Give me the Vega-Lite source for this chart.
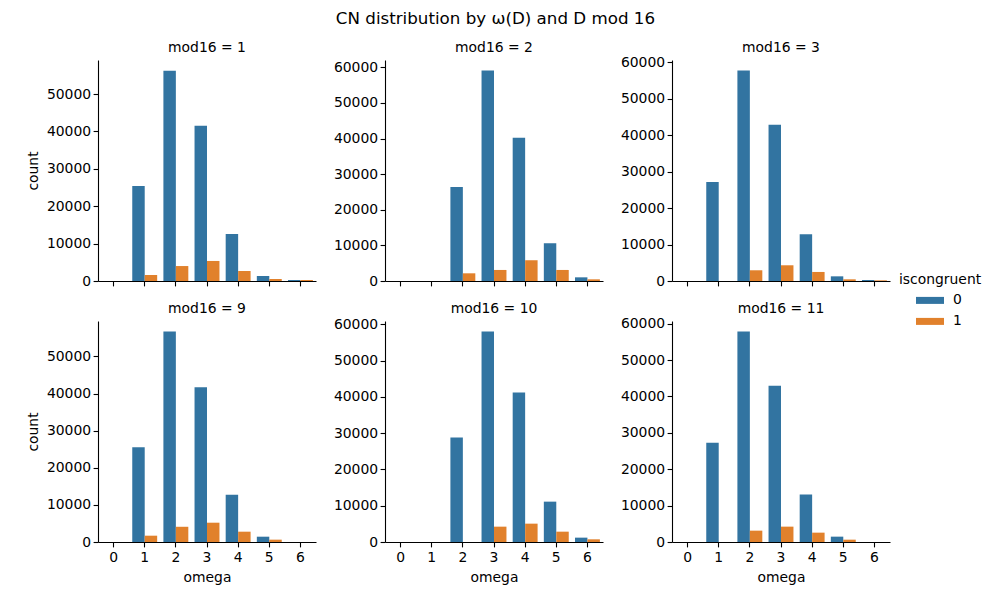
{
  "$schema": "https://vega.github.io/schema/vega-lite/v6.json",
  "padding": {"left": 26, "top": 11, "right": 5, "bottom": 5},
  "background": "white",
  "title": {"text": "CN distribution by ω(D) and D mod 16", "fontSize": 16.7, "offset": 13, "anchor": "middle", "fontWeight": "normal", "color": "#000", "dx": -9},
  "data": {"values": [
    {"mod16": 1, "omega": 1, "iscongruent": 0, "count": 25400},
    {"mod16": 1, "omega": 2, "iscongruent": 0, "count": 56250},
    {"mod16": 1, "omega": 3, "iscongruent": 0, "count": 41500},
    {"mod16": 1, "omega": 4, "iscongruent": 0, "count": 12600},
    {"mod16": 1, "omega": 5, "iscongruent": 0, "count": 1340},
    {"mod16": 1, "omega": 6, "iscongruent": 0, "count": 270},
    {"mod16": 1, "omega": 1, "iscongruent": 1, "count": 1600},
    {"mod16": 1, "omega": 2, "iscongruent": 1, "count": 4000},
    {"mod16": 1, "omega": 3, "iscongruent": 1, "count": 5360},
    {"mod16": 1, "omega": 4, "iscongruent": 1, "count": 2680},
    {"mod16": 1, "omega": 5, "iscongruent": 1, "count": 540},
    {"mod16": 1, "omega": 6, "iscongruent": 1, "count": 270},
    {"mod16": 2, "omega": 2, "iscongruent": 0, "count": 26400},
    {"mod16": 2, "omega": 3, "iscongruent": 0, "count": 59100},
    {"mod16": 2, "omega": 4, "iscongruent": 0, "count": 40200},
    {"mod16": 2, "omega": 5, "iscongruent": 0, "count": 10600},
    {"mod16": 2, "omega": 6, "iscongruent": 0, "count": 1030},
    {"mod16": 2, "omega": 2, "iscongruent": 1, "count": 2160},
    {"mod16": 2, "omega": 3, "iscongruent": 1, "count": 3100},
    {"mod16": 2, "omega": 4, "iscongruent": 1, "count": 5830},
    {"mod16": 2, "omega": 5, "iscongruent": 1, "count": 3100},
    {"mod16": 2, "omega": 6, "iscongruent": 1, "count": 470},
    {"mod16": 3, "omega": 1, "iscongruent": 0, "count": 27150},
    {"mod16": 3, "omega": 2, "iscongruent": 0, "count": 57700},
    {"mod16": 3, "omega": 3, "iscongruent": 0, "count": 42850},
    {"mod16": 3, "omega": 4, "iscongruent": 0, "count": 12840},
    {"mod16": 3, "omega": 5, "iscongruent": 0, "count": 1280},
    {"mod16": 3, "omega": 6, "iscongruent": 0, "count": 275},
    {"mod16": 3, "omega": 2, "iscongruent": 1, "count": 2940},
    {"mod16": 3, "omega": 3, "iscongruent": 1, "count": 4310},
    {"mod16": 3, "omega": 4, "iscongruent": 1, "count": 2480},
    {"mod16": 3, "omega": 5, "iscongruent": 1, "count": 460},
    {"mod16": 3, "omega": 6, "iscongruent": 1, "count": 180},
    {"mod16": 9, "omega": 1, "iscongruent": 0, "count": 25500},
    {"mod16": 9, "omega": 2, "iscongruent": 0, "count": 56700},
    {"mod16": 9, "omega": 3, "iscongruent": 0, "count": 41700},
    {"mod16": 9, "omega": 4, "iscongruent": 0, "count": 12700},
    {"mod16": 9, "omega": 5, "iscongruent": 0, "count": 1430},
    {"mod16": 9, "omega": 1, "iscongruent": 1, "count": 1700},
    {"mod16": 9, "omega": 2, "iscongruent": 1, "count": 4100},
    {"mod16": 9, "omega": 3, "iscongruent": 1, "count": 5200},
    {"mod16": 9, "omega": 4, "iscongruent": 1, "count": 2780},
    {"mod16": 9, "omega": 5, "iscongruent": 1, "count": 630},
    {"mod16": 10, "omega": 2, "iscongruent": 0, "count": 28800},
    {"mod16": 10, "omega": 3, "iscongruent": 0, "count": 58050},
    {"mod16": 10, "omega": 4, "iscongruent": 0, "count": 41200},
    {"mod16": 10, "omega": 5, "iscongruent": 0, "count": 11130},
    {"mod16": 10, "omega": 6, "iscongruent": 0, "count": 1200},
    {"mod16": 10, "omega": 3, "iscongruent": 1, "count": 4230},
    {"mod16": 10, "omega": 4, "iscongruent": 1, "count": 5060},
    {"mod16": 10, "omega": 5, "iscongruent": 1, "count": 2850},
    {"mod16": 10, "omega": 6, "iscongruent": 1, "count": 740},
    {"mod16": 11, "omega": 1, "iscongruent": 0, "count": 27270},
    {"mod16": 11, "omega": 2, "iscongruent": 0, "count": 57850},
    {"mod16": 11, "omega": 3, "iscongruent": 0, "count": 42970},
    {"mod16": 11, "omega": 4, "iscongruent": 0, "count": 13030},
    {"mod16": 11, "omega": 5, "iscongruent": 0, "count": 1470},
    {"mod16": 11, "omega": 2, "iscongruent": 1, "count": 3120},
    {"mod16": 11, "omega": 3, "iscongruent": 1, "count": 4220},
    {"mod16": 11, "omega": 4, "iscongruent": 1, "count": 2570},
    {"mod16": 11, "omega": 5, "iscongruent": 1, "count": 640}
  ]},
  "columns": 3,
  "bounds": "flush",
  "spacing": {"row": 40, "column": 69},
  "resolve": {"scale": {"color": "shared", "y": "independent"}, "legend": {"color": "shared"}},
  "concat": [
    {
      "width": 218, "height": 221,
      "title": {"text": "mod16 = 1", "frame": "group", "offset": 5},
      "transform": [{"filter": "datum.mod16 == 1"}],
      "mark": "bar",
      "encoding": {
        "x": {"field": "omega", "type": "ordinal", "scale": {"domain": [0, 1, 2, 3, 4, 5, 6], "paddingInner": 0.2, "paddingOuter": 0.1}, "axis": {"labels": false, "title": null}},
        "xOffset": {"field": "iscongruent", "type": "nominal", "scale": {"domain": [0, 1], "paddingInner": 0, "paddingOuter": 0}},
        "y": {"field": "count", "type": "quantitative", "scale": {"domain": [0, 59100], "nice": false}, "axis": {"title": "count", "format": "d"}},
        "color": {"field": "iscongruent", "type": "nominal", "scale": {"domain": [0, 1], "range": ["#3274a1", "#e1812c"]}, "legend": {"title": "iscongruent", "orient": "none", "legendX": 801, "legendY": 213}}
      }
    },
    {
      "width": 218, "height": 221,
      "title": {"text": "mod16 = 2", "frame": "group", "offset": 5},
      "transform": [{"filter": "datum.mod16 == 2"}],
      "mark": "bar",
      "encoding": {
        "x": {"field": "omega", "type": "ordinal", "scale": {"domain": [0, 1, 2, 3, 4, 5, 6], "paddingInner": 0.2, "paddingOuter": 0.1}, "axis": {"labels": false, "title": null}},
        "xOffset": {"field": "iscongruent", "type": "nominal", "scale": {"domain": [0, 1], "paddingInner": 0, "paddingOuter": 0}},
        "y": {"field": "count", "type": "quantitative", "scale": {"domain": [0, 62050], "nice": false}, "axis": {"title": null, "format": "d"}},
        "color": {"field": "iscongruent", "type": "nominal", "scale": {"domain": [0, 1], "range": ["#3274a1", "#e1812c"]}, "legend": {"title": "iscongruent", "orient": "none", "legendX": 801, "legendY": 213}}
      }
    },
    {
      "width": 218, "height": 221,
      "title": {"text": "mod16 = 3", "frame": "group", "offset": 0.3},
      "transform": [{"filter": "datum.mod16 == 3"}],
      "mark": "bar",
      "encoding": {
        "x": {"field": "omega", "type": "ordinal", "scale": {"domain": [0, 1, 2, 3, 4, 5, 6], "paddingInner": 0.2, "paddingOuter": 0.1}, "axis": {"labels": false, "title": null}},
        "xOffset": {"field": "iscongruent", "type": "nominal", "scale": {"domain": [0, 1], "paddingInner": 0, "paddingOuter": 0}},
        "y": {"field": "count", "type": "quantitative", "scale": {"domain": [0, 60600], "nice": false}, "axis": {"title": null, "format": "d"}},
        "color": {"field": "iscongruent", "type": "nominal", "scale": {"domain": [0, 1], "range": ["#3274a1", "#e1812c"]}, "legend": {"title": "iscongruent", "orient": "none", "legendX": 801, "legendY": 213}}
      }
    },
    {
      "width": 218, "height": 221,
      "title": {"text": "mod16 = 9", "frame": "group", "offset": 5},
      "transform": [{"filter": "datum.mod16 == 9"}],
      "mark": "bar",
      "encoding": {
        "x": {"field": "omega", "type": "ordinal", "scale": {"domain": [0, 1, 2, 3, 4, 5, 6], "paddingInner": 0.2, "paddingOuter": 0.1}, "axis": {"title": "omega"}},
        "xOffset": {"field": "iscongruent", "type": "nominal", "scale": {"domain": [0, 1], "paddingInner": 0, "paddingOuter": 0}},
        "y": {"field": "count", "type": "quantitative", "scale": {"domain": [0, 59535], "nice": false}, "axis": {"title": "count", "format": "d"}},
        "color": {"field": "iscongruent", "type": "nominal", "scale": {"domain": [0, 1], "range": ["#3274a1", "#e1812c"]}, "legend": {"title": "iscongruent", "orient": "none", "legendX": 801, "legendY": 213}}
      }
    },
    {
      "width": 218, "height": 221,
      "title": {"text": "mod16 = 10", "frame": "group", "offset": 1.5},
      "transform": [{"filter": "datum.mod16 == 10"}],
      "mark": "bar",
      "encoding": {
        "x": {"field": "omega", "type": "ordinal", "scale": {"domain": [0, 1, 2, 3, 4, 5, 6], "paddingInner": 0.2, "paddingOuter": 0.1}, "axis": {"title": "omega"}},
        "xOffset": {"field": "iscongruent", "type": "nominal", "scale": {"domain": [0, 1], "paddingInner": 0, "paddingOuter": 0}},
        "y": {"field": "count", "type": "quantitative", "scale": {"domain": [0, 60950], "nice": false}, "axis": {"title": null, "format": "d"}},
        "color": {"field": "iscongruent", "type": "nominal", "scale": {"domain": [0, 1], "range": ["#3274a1", "#e1812c"]}, "legend": {"title": "iscongruent", "orient": "none", "legendX": 801, "legendY": 213}}
      }
    },
    {
      "width": 218, "height": 221,
      "title": {"text": "mod16 = 11", "frame": "group", "offset": 0.75},
      "transform": [{"filter": "datum.mod16 == 11"}],
      "mark": "bar",
      "encoding": {
        "x": {"field": "omega", "type": "ordinal", "scale": {"domain": [0, 1, 2, 3, 4, 5, 6], "paddingInner": 0.2, "paddingOuter": 0.1}, "axis": {"title": "omega"}},
        "xOffset": {"field": "iscongruent", "type": "nominal", "scale": {"domain": [0, 1], "paddingInner": 0, "paddingOuter": 0}},
        "y": {"field": "count", "type": "quantitative", "scale": {"domain": [0, 60740], "nice": false}, "axis": {"title": null, "format": "d"}},
        "color": {"field": "iscongruent", "type": "nominal", "scale": {"domain": [0, 1], "range": ["#3274a1", "#e1812c"]}, "legend": {"title": "iscongruent", "orient": "none", "legendX": 801, "legendY": 213}}
      }
    }
  ],
  "config": {
    "font": "DejaVu Sans",
    "view": {"stroke": null},
    "axis": {"grid": false, "domainColor": "#000", "tickColor": "#000", "labelColor": "#000", "titleColor": "#000", "labelFontSize": 13.9, "titleFontSize": 13.9, "titleFontWeight": "normal", "tickSize": 4.9, "labelPadding": 4, "domainWidth": 1.1, "tickWidth": 1.1},
    "axisX": {"labelAngle": 0, "titlePadding": 6},
    "axisY": {"titlePadding": 5.5, "tickCount": 6, "labelPadding": 2.5},
    "title": {"fontSize": 13.9, "fontWeight": "normal", "color": "#000", "offset": 5},
    "legend": {"titleFontSize": 13.9, "labelFontSize": 13.9, "titleFontWeight": "normal", "titleColor": "#000", "labelColor": "#000", "padding": 0, "rowPadding": 0, "titlePadding": -0.5, "symbolType": "M-1,-0.25H1V0.25H-1Z", "symbolSize": 784, "symbolOffset": 17, "labelOffset": 9, "symbolStrokeWidth": 0}
  }
}
